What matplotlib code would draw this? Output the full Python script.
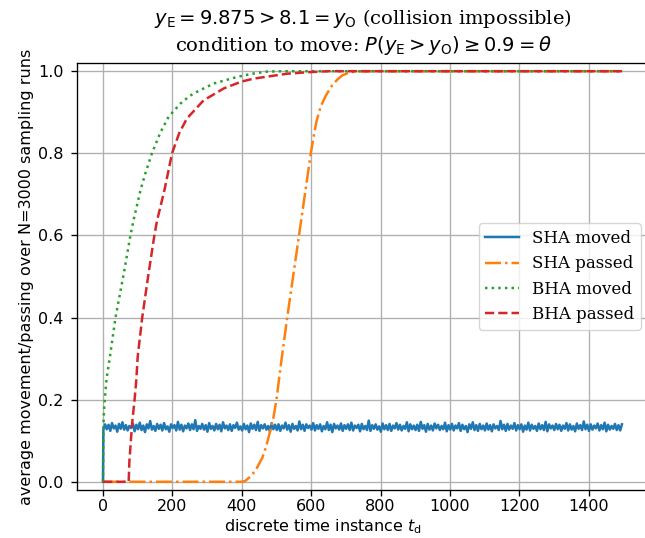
import numpy as np
import matplotlib
matplotlib.use("Agg")
import matplotlib.pyplot as plt

# ---- data ----
sha_moved_vals = [
0.126,0.140,0.128,0.139,0.124,0.143,0.130,0.137,0.122,0.141,0.129,0.145,0.127,0.138,0.125,0.136,0.131,0.142,0.123,0.139,
0.128,0.144,0.126,0.137,0.121,0.140,0.130,0.148,0.127,0.136,0.124,0.141,0.129,0.139,0.125,0.143,0.128,0.135,0.122,0.140,
0.131,0.138,0.125,0.146,0.127,0.139,0.123,0.137,0.130,0.142,0.126,0.140,0.128,0.150,0.124,0.136,0.129,0.141,0.127,0.138,
0.122,0.143,0.129,0.136,0.125,0.141,0.128,0.139,0.123,0.145,0.130,0.137,0.126,0.140,0.124,0.138,0.131,0.144,0.127,0.135,
0.125,0.141,0.128,0.137,0.121,0.142,0.129,0.139,0.126,0.146,0.124,0.138,0.130,0.140,0.127,0.136,0.123,0.143,0.128,0.139,
0.126,0.140,0.124,0.137,0.130,0.144,0.127,0.138,0.122,0.141,0.129,0.136,0.125,0.147,0.128,0.139,0.124,0.140,0.131,0.137,
0.127,0.143,0.125,0.138,0.129,0.140,0.123,0.136,0.128,0.145,0.126,0.139,0.121,0.141,0.130,0.137,0.127,0.142,0.124,0.138,
0.129,0.140,0.126,0.144,0.125,0.137,0.131,0.139,0.123,0.141,0.128,0.136,0.126,0.149,0.124,0.138,0.129,0.140,0.127,0.135,
0.122,0.142,0.128,0.138,0.126,0.141,0.124,0.137,0.130,0.143,0.127,0.139,0.125,0.136,0.129,0.145,0.123,0.140,0.128,0.137,
0.126,0.139,0.124,0.146,0.129,0.138,0.122,0.141,0.127,0.137,0.125,0.142,0.130,0.139,0.126,0.136,0.128,0.144,0.123,0.138,
0.127,0.141,0.125,0.137,0.130,0.143,0.124,0.139,0.128,0.136,0.121,0.140,0.129,0.145,0.126,0.138,0.124,0.141,0.128,0.137,
0.125,0.142,0.127,0.138,0.123,0.140,0.130,0.136,0.126,0.148,0.128,0.139,0.124,0.141,0.127,0.137,0.129,0.143,0.125,0.138,
0.128,0.140,0.122,0.137,0.127,0.144,0.125,0.139,0.129,0.136,0.124,0.142,0.128,0.138,0.126,0.146,0.123,0.140,0.130,0.137,
0.126,0.141,0.128,0.139,0.124,0.137,0.129,0.143,0.125,0.140,0.127,0.136,0.123,0.142,0.129,0.138,0.126,0.147,0.128,0.139,
0.124,0.140,0.127,0.137,0.130,0.142,0.125,0.138,0.128,0.144,0.123,0.139,0.127,0.136,0.129,0.141,0.126,0.138,0.125,0.140,
]
sha_moved_t = [0] + list(range(1, 1500, 5))
sha_moved_y = [0.0] + sha_moved_vals

sha_passed_t = [0, 400, 410, 425, 440, 459, 470, 483, 491, 500, 515, 531, 548, 565,
                582, 599, 608, 616, 628, 642, 660, 676, 690, 705, 725, 743, 1499]
sha_passed_y = [0.0, 0.0, 0.002, 0.013, 0.028, 0.058, 0.085, 0.127, 0.155, 0.2, 0.3, 0.4,
                0.5, 0.6, 0.7, 0.8, 0.845, 0.88, 0.915, 0.94, 0.965, 0.98, 0.99, 0.995,
                0.999, 1.0, 1.0]

bha_moved_t = [0, 1, 3, 5, 10, 20, 36, 60, 79, 88, 108, 122, 141, 165, 189, 223,
               250, 271, 319, 386, 430, 473, 520, 1499]
bha_moved_y = [0.0, 0.135, 0.175, 0.2, 0.25, 0.305, 0.4, 0.508, 0.6, 0.637, 0.71, 0.751,
               0.8, 0.85, 0.889, 0.921, 0.94, 0.95, 0.97, 0.986, 0.994, 0.999, 1.0, 1.0]

bha_passed_t = [0, 74, 76, 84, 91, 96, 100, 113, 130, 148, 156, 177, 199, 220, 242,
                290, 348, 400, 435, 531, 600, 650, 1499]
bha_passed_y = [0.0, 0.0, 0.05, 0.143, 0.2, 0.248, 0.305, 0.4, 0.5, 0.6, 0.637, 0.71,
                0.8, 0.85, 0.885, 0.929, 0.958, 0.975, 0.982, 0.994, 0.998, 1.0, 1.0]

x_ticks = [0, 200, 400, 600, 800, 1000, 1200, 1400]
y_ticks = [0.0, 0.2, 0.4, 0.6, 0.8, 1.0]

# ---- figure ----
S = 1.2
FS = 11.5
W, H = 645, 538
fig = plt.figure(figsize=(W / 100, H / 100), dpi=100)
l, r, t, b = 77, 649, 63, 490
ax = fig.add_axes([l / W, 1 - b / H, (r - l) / W, (b - t) / H])

lw = 1.5 * S
ax.plot(sha_moved_t, sha_moved_y, '-', color='tab:blue', lw=lw, label='SHA moved')
ax.plot(sha_passed_t, sha_passed_y, '-.', color='tab:orange', lw=lw, label='SHA passed')
ax.plot(bha_moved_t, bha_moved_y, ':', color='tab:green', lw=lw, label='BHA moved')
ax.plot(bha_passed_t, bha_passed_y, '--', color='tab:red', lw=lw, label='BHA passed')

ax.set_xlim(-75, 1574)
ax.set_ylim(-0.02, 1.02)
ax.set_xticks(x_ticks)
ax.set_yticks(y_ticks)
ax.grid(True, color='#b0b0b0', lw=0.8 * S)
ax.tick_params(labelsize=FS, width=0.8 * S, length=3.5 * S)
ax.tick_params(axis='x', pad=2.5)
ax.tick_params(axis='y', pad=5.5)
for sp in ax.spines.values():
    sp.set_linewidth(0.8 * S)

ax.set_xlabel(r'discrete time instance $t_\mathrm{d}$', fontsize=FS, va='center')
ax.xaxis.set_label_coords(0.5, (H - 527) / H, transform=fig.transFigure)
ax.set_ylabel('average movement/passing over N=3000 sampling runs', fontsize=FS,
              labelpad=2.7)
ax.set_title(r'$y_\mathrm{E} = 9.875 > 8.1 = y_\mathrm{O}$ (collision impossible)' '\n'
             r'condition to move: $P(y_\mathrm{E} > y_\mathrm{O}) \geq 0.9 = \theta$',
             fontsize=14, family='DejaVu Serif', pad=9)
ax.legend(loc='center right', prop={'family': 'DejaVu Serif', 'size': 12})

fig.savefig('out.png', dpi=100)
